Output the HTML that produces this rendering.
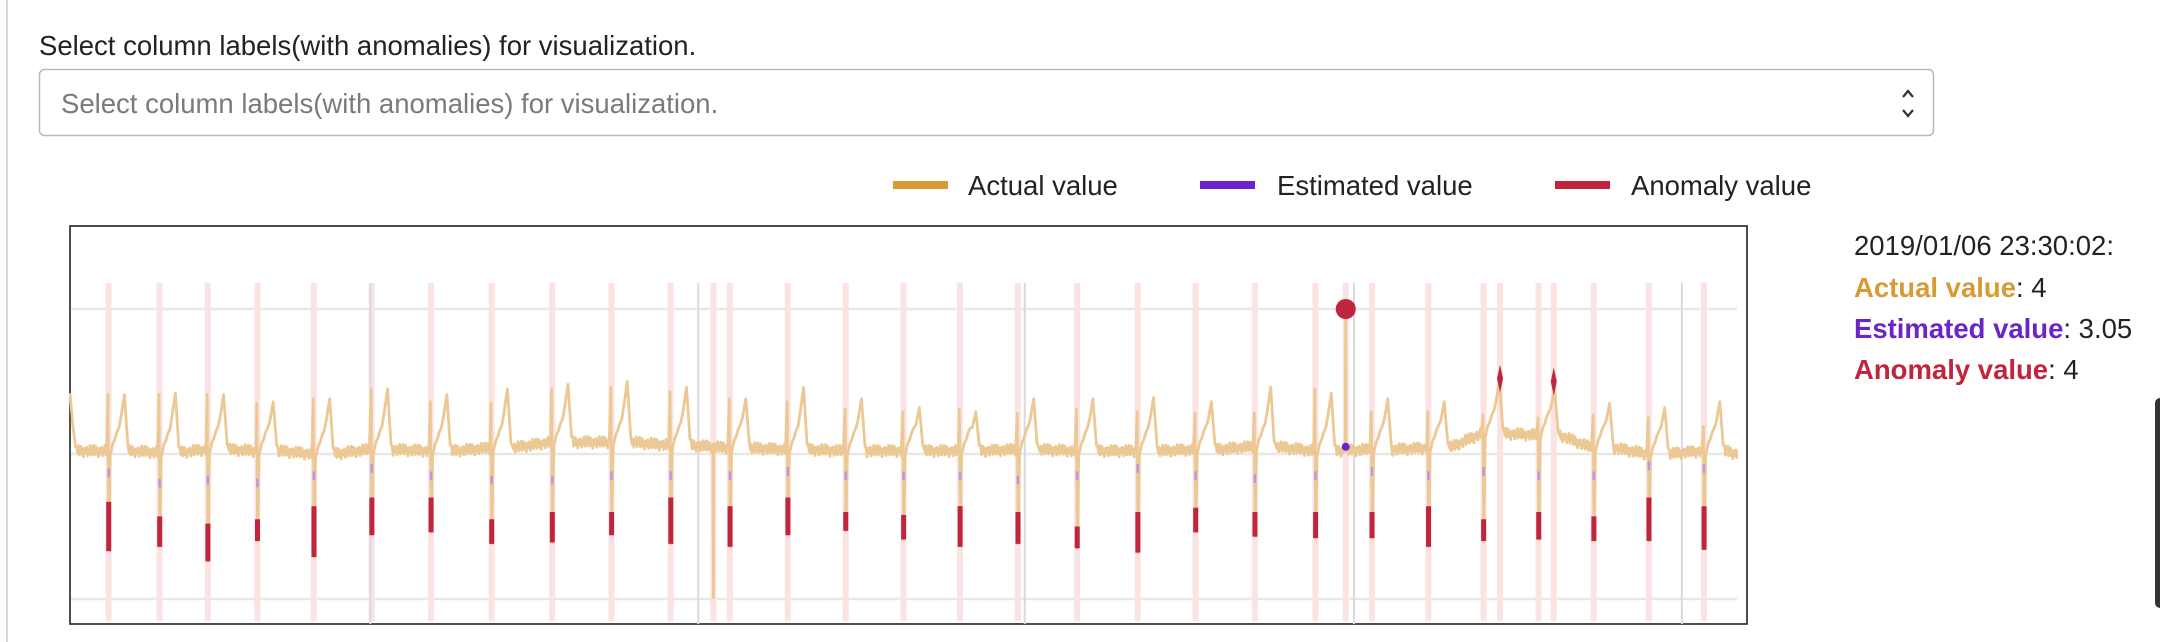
<!DOCTYPE html>
<html><head><meta charset="utf-8"><style>
html,body{margin:0;padding:0;background:#fff;}
body{width:2160px;height:642px;overflow:hidden;position:relative;font-family:"Liberation Sans",sans-serif;}
svg{position:absolute;left:0;top:0;}
</style></head><body>
<svg id="root" width="2160" height="642" font-family="Liberation Sans, sans-serif">
  <line x1="7" y1="0" x2="7" y2="642" stroke="#d8d8d8" stroke-width="2"/>
  <text x="39" y="55" font-size="27.5" fill="#222">Select column labels(with anomalies) for visualization.</text>
  <g>
    <rect x="39.5" y="69.5" width="1894" height="66" rx="5" fill="#fff" stroke="#b9b9b9" stroke-width="1.5"/>
    <text x="61" y="113" font-size="27.5" fill="#7a7a7a">Select column labels(with anomalies) for visualization.</text>
    <path d="M1903 97 l5 -6 l5 6 M1903 110 l5 6 l5 -6" fill="none" stroke="#333" stroke-width="2.2"/>
  </g>
  <g>
    <g><rect x="893" y="181" width="55" height="8" fill="#d89a35"/><text x="968" y="195" font-size="27.5" fill="#222">Actual value</text></g>
    <g><rect x="1200" y="181" width="55" height="8" fill="#6b24c9"/><text x="1277" y="195" font-size="27.5" fill="#222">Estimated value</text></g>
    <g><rect x="1555" y="181" width="55" height="8" fill="#c0253d"/><text x="1631" y="195" font-size="27.5" fill="#222">Anomaly value</text></g>
  </g>
  <g id="chart"></g>
  <g font-size="27.5">
    <text x="1854" y="255" fill="#222">2019/01/06 23:30:02:</text>
    <text x="1854" y="297"><tspan fill="#d89a35" font-weight="bold">Actual value</tspan><tspan fill="#222">: 4</tspan></text>
    <text x="1854" y="338"><tspan fill="#6b24c9" font-weight="bold">Estimated value</tspan><tspan fill="#222">: 3.05</tspan></text>
    <text x="1854" y="379"><tspan fill="#c0253d" font-weight="bold">Anomaly value</tspan><tspan fill="#222">: 4</tspan></text>
  </g>
  <rect x="2155" y="398" width="10" height="210" rx="5" fill="#333"/>
</svg>
<script>
// ---- data ----
const beatTimes = [79,116,151,187,228,270,313,357,401,444,487,530,572,614,656,697,739,782,826,868,911,955,996,1037,1077,1117,1157,1197,1237];
const rPeaks    = [3.41,3.41,3.41,3.35,3.38,3.45,3.36,3.35,3.45,3.46,3.43,3.38,3.36,3.31,3.29,3.31,3.28,3.31,3.29,3.28,3.28,3.45,3.29,3.29,3.27,3.25,3.27,3.25,3.19];
const tPeaks    = [3.41,3.42,3.41,3.36,3.38,3.45,3.41,3.45,3.48,3.50,3.46,3.38,3.46,3.38,3.32,3.29,3.38,3.38,3.39,3.36,3.46,3.42,3.38,3.36,3.50,3.45,3.35,3.32,3.36];
const baseVals  = [3.02,3.01,3.03,3.02,3.00,3.03,3.02,3.04,3.08,3.08,3.06,3.04,3.03,3.02,3.02,3.02,3.03,3.02,3.02,3.03,3.05,3.02,3.03,3.04,3.14,3.13,3.04,3.00,3.02];
const dipVals   = [2.33,2.36,2.26,2.40,2.29,2.44,2.46,2.38,2.39,2.44,2.38,2.36,2.44,2.47,2.41,2.36,2.38,2.35,2.32,2.46,2.43,2.42,2.42,2.36,2.40,2.41,2.40,2.40,2.34];
const redTops   = [2.67,2.57,2.52,2.55,2.64,2.70,2.70,2.55,2.60,2.60,2.70,2.64,2.70,2.60,2.58,2.64,2.60,2.50,2.60,2.63,2.60,2.60,2.60,2.64,2.55,2.60,2.57,2.70,2.64];
const estVals   = [2.87,2.80,2.82,2.80,2.85,2.90,2.85,2.82,2.82,2.85,2.85,2.85,2.88,2.85,2.85,2.85,2.82,2.85,2.90,2.85,2.83,2.85,2.88,2.85,2.88,2.85,2.85,2.92,2.90];
const tAnomalyTimes = [1089,1128];
const tAnomalyVals  = [3.52,3.50];
const bigDipTime = 518, bigDipVal = 2.01;
const spikeTime = 977, spikeVal = 4, spikeEst = 3.05;
const bandTimes = [79,116,151,187,228,270,313,357,401,444,487,518,530,572,614,656,697,739,782,826,868,911,955,977,996,1037,1077,1089,1117,1128,1157,1197,1237];
const dayLines = [269,507,744,983,1221];
const gridVals = [4,3,2];
const noise = [0.02,-0.01,0.03,-0.02,0.0,0.025,-0.015,0.01,-0.03,0.015,0.0,-0.01,0.02,-0.025,0.01,-0.005,0.03,-0.02];

// ---- scales ----
const X0=70, X1=1737, T0=51, T1=1261;
function xs(t){return X0+(t-T0)*(X1-X0)/(T1-T0);}
function ys(v){return 454-(v-3)*145;}
const NS='http://www.w3.org/2000/svg';
const chart=document.getElementById('chart');
function mk(tag,attrs,parent){const e=document.createElementNS(NS,tag);for(const k in attrs)e.setAttribute(k,attrs[k]);(parent||chart).appendChild(e);return e;}

const frame=mk('rect',{x:70,y:226,width:1677,height:398,fill:'none',stroke:'#222','stroke-width':1.6});


gridVals.forEach(v=>{const g=mk('line',{x1:71,x2:1737,y1:ys(v),y2:ys(v),stroke:'#e8e8e8','stroke-width':2.5});

});
bandTimes.forEach(t=>{const b=mk('rect',{x:xs(t)-3,y:283,width:6,height:338,fill:'#fbe3e3'});

});
dayLines.forEach(t=>{const l=mk('line',{x1:xs(t),x2:xs(t),y1:283,y2:624,stroke:'#dadada','stroke-width':2});

});

let pts=[]; let ni=0;
function P(t,v){pts.push(xs(t).toFixed(1)+','+ys(v).toFixed(1));}
function noisy(a,b,base,endBase){for(let t=a;t<b;t+=0.6){const f=(t-a)/Math.max(1,b-a);let v=base+(endBase-base)*f+noise[ni++%noise.length]*1.3;
 if(Math.abs(t-bigDipTime)<0.5){P(bigDipTime-0.3,base);P(bigDipTime,bigDipVal);P(bigDipTime+0.3,base);continue;}
 if(Math.abs(t-spikeTime)<0.5){P(spikeTime-0.3,spikeEst);P(spikeTime,spikeVal);P(spikeTime+0.3,spikeEst);continue;}
 P(t,v);}}
P(51,3.42);P(53,3.2);P(55,3.05);
let prevEnd=56, prevBase=3.02;
beatTimes.forEach((r,i)=>{
  const b=baseVals[i];
  noisy(prevEnd,r-1.2,prevBase,b);
  P(r-0.4,rPeaks[i]);P(r+0.2,dipVals[i]);P(r+1.2,b-0.03);
  P(r+3,b+0.05);P(r+4.5,b+0.08);P(r+6,b+0.13);P(r+7.5,b+0.16);P(r+9,b+(tPeaks[i]-b)*0.6);P(r+11.5,tPeaks[i]);P(r+14,b+0.04);
  prevEnd=r+15; prevBase=b;
});
noisy(prevEnd,1261,prevBase,3.0);
const line=mk('polyline',{points:pts.join(' '),fill:'none',stroke:'#ecc994','stroke-width':2.8,'stroke-linejoin':'round'});



beatTimes.forEach((r,i)=>{const e=mk('line',{x1:xs(r),x2:xs(r),y1:ys(estVals[i]+0.03),y2:ys(estVals[i]-0.03),stroke:'#b59ae3','stroke-width':2.5});

});
beatTimes.forEach((r,i)=>{const a=mk('line',{x1:xs(r+0.1),x2:xs(r+0.1),y1:ys(redTops[i]),y2:ys(dipVals[i]),stroke:'#c0253d','stroke-width':5});

});
tAnomalyTimes.forEach((t,i)=>{const x=xs(t),y=ys(tAnomalyVals[i]);
const d=mk('path',{d:`M${x} ${y-14} L${x+3} ${y} L${x} ${y+14} L${x-3} ${y}Z`,fill:'#c0253d'});

});
const dot=mk('circle',{cx:xs(spikeTime),cy:ys(spikeVal),r:10,fill:'#c0253d'});


const edot=mk('circle',{cx:xs(spikeTime),cy:ys(spikeEst),r:4,fill:'#6b24c9'});


</script>
</body></html>
